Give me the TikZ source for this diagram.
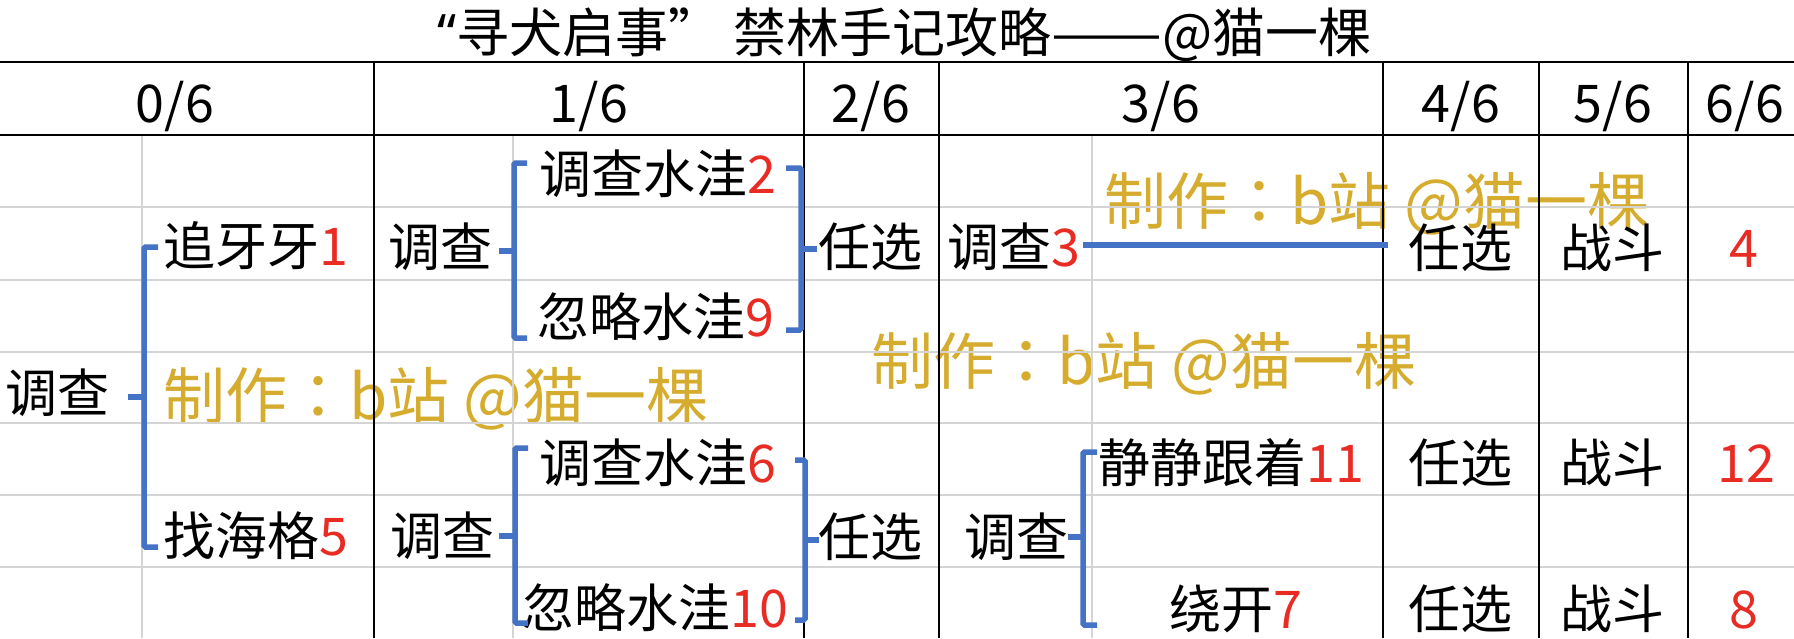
\documentclass[tikz,border=0pt]{standalone}
\usepackage{fontspec}
\usepackage{graphicx}
\setmainfont{Noto Sans CJK SC}
\newfontfamily\latinfont{Noto Sans}
\newfontfamily\jpfont{Noto Sans CJK JP}
\definecolor{brblue}{RGB}{68,114,196}
\definecolor{gridgrey}{RGB}{212,212,212}
\definecolor{numred}{RGB}{232,44,36}
\definecolor{gold}{RGB}{214,172,46}
\newcommand{\rn}[1]{\textcolor{numred}{#1}}
\newcommand{\wmtext}{制作{\jpfont ：}b站 @猫一棵}
\begin{document}
\begin{tikzpicture}[x=1pt,y=-1pt,
  txt/.style={inner sep=0pt, anchor=base west, font=\fontsize{52}{52}\selectfont},
  ctxt/.style={inner sep=0pt, anchor=base, font=\fontsize{52}{52}\selectfont},
  wm/.style={inner sep=0pt, anchor=base west, text=gold, font=\fontsize{62}{62}\selectfont},
  br/.style={draw=brblue, line width=5.5pt, rounded corners=1.5pt},
  gl/.style={draw=gridgrey, line width=2pt},
  bl/.style={draw=black, line width=1.6pt}]
\useasboundingbox (0,0) rectangle (1794,638);
\fill[white] (0,0) rectangle (1794,638);

% watermarks
\node[wm] (wm1) at (163,419) {\wmtext};
\node[wm] (wm2) at (1104,224) {\wmtext};
\node[wm] (wm3) at (871,384) {\wmtext};

% grid
\foreach \y in {207,280,352,423,495,567} \draw[gl] (0,\y) -- (1794,\y);
\foreach \x in {142,513,1092} \draw[gl] (\x,135) -- (\x,638);
\foreach \y in {62,135} \draw[bl] (0,\y) -- (1794,\y);
\foreach \x in {374,804,939,1383,1539,1688} \draw[bl] (\x,62) -- (\x,638);

% title
\node[txt, font=\fontsize{53}{53}\selectfont] (title) at (437,52)
  {{\latinfont “}寻犬启事” 禁林手记攻略\scalebox{1.25}[1]{——}@猫一棵};

% header
\node[ctxt] (h0) at (175,122) {0/6};
\node[ctxt] (h1) at (589,122) {1/6};
\node[ctxt] (h2) at (871,122) {2/6};
\node[ctxt] (h3) at (1161,122) {3/6};
\node[ctxt] (h4) at (1461,122) {4/6};
\node[ctxt] (h5) at (1613,122) {5/6};
\node[ctxt] (h6) at (1745,122) {6/6};

% body
\node[txt] (a0) at (5,412) {调查};
\node[txt] (a1) at (163,265) {追牙牙\rn{1}};
\node[txt] (a5) at (163,555) {找海格\rn{5}};
\node[txt] (b1) at (388,266) {调查};
\node[txt] (b2) at (390,555) {调查};
\node[txt] (c2) at (539,193) {调查水洼\rn{2}};
\node[txt] (c9) at (537,336) {忽略水洼\rn{9}};
\node[txt] (c6) at (539,482) {调查水洼\rn{6}};
\node[txt] (c10) at (522,627) {忽略水洼\rn{10}};
\node[txt] (d1) at (818,266) {任选};
\node[txt] (d2) at (818,556) {任选};
\node[txt] (e3) at (947,266) {调查\rn{3}};
\node[txt] (e2) at (964,556) {调查};
\node[txt] (e11) at (1098,482) {静静跟着\rn{11}};
\node[txt] (e7) at (1169,628) {绕开\rn{7}};
\node[txt] (f1) at (1408,267) {任选};
\node[txt] (f2) at (1408,482) {任选};
\node[txt] (f3) at (1408,628) {任选};
\node[txt] (g1) at (1560,267) {战斗};
\node[txt] (g2) at (1560,482) {战斗};
\node[txt] (g3) at (1560,628) {战斗};
\node[ctxt] (r4) at (1744,267) {\rn{4}};
\node[ctxt] (r12) at (1746,482) {\rn{12}};
\node[ctxt] (r8) at (1744,628) {\rn{8}};

% bracket coordinates
\coordinate (B1s) at (128,397); \coordinate (B1m) at (144,397);
\coordinate (B1t) at (158,247); \coordinate (B1b) at (158,547);
\coordinate (B2s) at (499,251); \coordinate (B2m) at (514,251);
\coordinate (B2t) at (527,163); \coordinate (B2b) at (527,338);
\coordinate (B3s) at (817,249); \coordinate (B3m) at (801,249);
\coordinate (B3t) at (786,168); \coordinate (B3b) at (786,330);
\coordinate (B4s) at (499,536); \coordinate (B4m) at (515,536);
\coordinate (B4t) at (528,448); \coordinate (B4b) at (528,623);
\coordinate (B5s) at (819,540); \coordinate (B5m) at (805,540);
\coordinate (B5t) at (795,460); \coordinate (B5b) at (795,620);
\coordinate (B6s) at (1068,537); \coordinate (B6m) at (1083,537);
\coordinate (B6t) at (1097,452); \coordinate (B6b) at (1097,625);
\coordinate (L1) at (1083,245); \coordinate (L2) at (1388,245);

\draw[br] (B1t) -| (B1m) |- (B1b); \draw[br] (B1s) -- (B1m);
\draw[br] (B2t) -| (B2m) |- (B2b); \draw[br] (B2s) -- (B2m);
\draw[br] (B3t) -| (B3m) |- (B3b); \draw[br] (B3s) -- (B3m);
\draw[br] (B4t) -| (B4m) |- (B4b); \draw[br] (B4s) -- (B4m);
\draw[br] (B5t) -| (B5m) |- (B5b); \draw[br] (B5s) -- (B5m);
\draw[br] (B6t) -| (B6m) |- (B6b); \draw[br] (B6s) -- (B6m);
\draw[br] (L1) -- (L2);
\end{tikzpicture}
\end{document}
